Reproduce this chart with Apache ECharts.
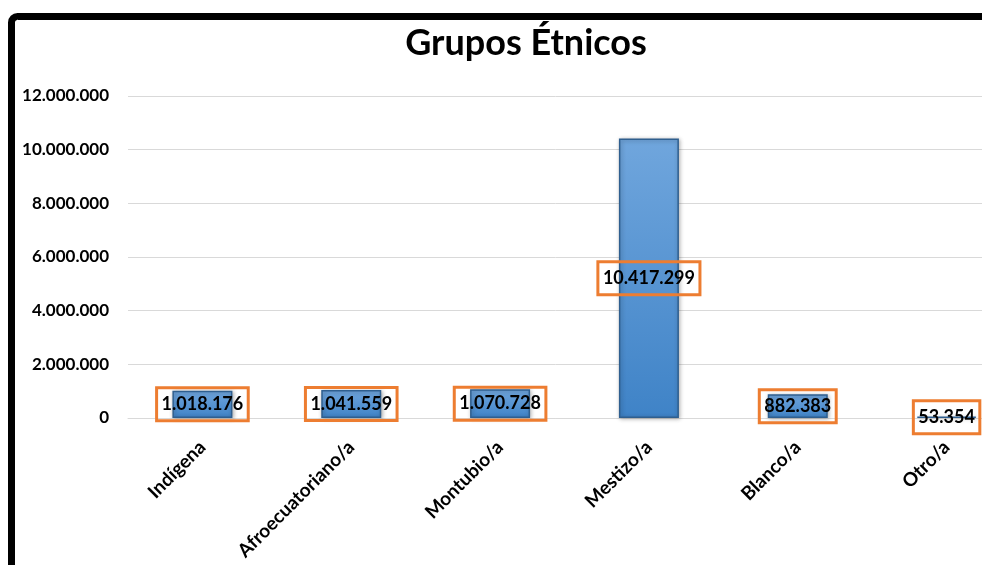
<!DOCTYPE html>
<html>
<head>
<meta charset="utf-8">
<script src="https://cdn.jsdelivr.net/npm/echarts@6/dist/echarts.min.js"></script>
<style>
html,body{margin:0;padding:0;background:#fff;}
#chart{width:982px;height:565px;}
</style>
</head>
<body>
<div id="chart"></div>
<script>
var titleText = 'Grupos Étnicos';
var categories = ['Indígena', 'Afroecuatoriano/a', 'Montubio/a', 'Mestizo/a', 'Blanco/a', 'Otro/a'];
var values = [1018176, 1041559, 1070728, 10417299, 882383, 53354];
var yMin = 0, yMax = 12000000, yStep = 2000000;

function fmt(v) {
  return String(v).replace(/\B(?=(\d{3})+(?!\d))/g, '.');
}

var chart = echarts.init(document.getElementById('chart'));
var font = 'Lato, "Open Sans", sans-serif';
chart.setOption({
  animation: false,
  backgroundColor: '#ffffff',
  title: {
    text: titleText,
    left: 521,
    textAlign: 'center',
    top: 20,
    textStyle: { fontFamily: font, fontWeight: 'bold', fontSize: 36, color: '#000' }
  },
  graphic: [{
    type: 'rect',
    shape: { x: 11.5, y: 16.5, width: 1100, height: 700, r: 6 },
    style: { fill: 'none', stroke: '#000', lineWidth: 7 },
    z: 100
  }],
  grid: { left: 128, top: 96, width: 893, height: 322, outerBoundsMode: 'none', containLabel: false },
  xAxis: {
    type: 'category',
    data: categories,
    axisLine: { show: true, lineStyle: { color: '#d9d9d9', width: 1 } },
    axisTick: { show: false },
    axisLabel: {
      rotate: 45,
      interval: 0,
      margin: 26,
      fontFamily: font,
      fontWeight: 'bold',
      fontSize: 19,
      color: '#000'
    }
  },
  yAxis: {
    type: 'value',
    min: yMin,
    max: yMax,
    interval: yStep,
    axisLine: { show: false },
    axisTick: { show: false },
    splitLine: { lineStyle: { color: '#d9d9d9', width: 1 } },
    axisLabel: {
      margin: 19,
      fontFamily: font,
      fontWeight: 'bold',
      fontSize: 17,
      color: '#000',
      formatter: function (v) { return fmt(v); }
    }
  },
  series: [{
    type: 'bar',
    data: values,
    barWidth: 60,
    itemStyle: {
      color: new echarts.graphic.LinearGradient(0, 0, 0, 1, [
        { offset: 0, color: '#70a6dd' },
        { offset: 1, color: '#3f83c7' }
      ]),
      borderColor: '#2f5f8f',
      borderWidth: 1.5,
      shadowColor: 'rgba(0,0,0,0.3)',
      shadowBlur: 4,
      shadowOffsetX: 1,
      shadowOffsetY: 1
    },
    label: {
      show: true,
      position: 'inside',
      formatter: function (p) { return fmt(p.value); },
      fontFamily: font,
      fontWeight: 'bold',
      fontSize: 18,
      color: '#000',
      lineHeight: 19,
      borderColor: '#ed7d31',
      borderWidth: 3,
      padding: [7, 5]
    }
  }]
});
</script>
</body>
</html>
